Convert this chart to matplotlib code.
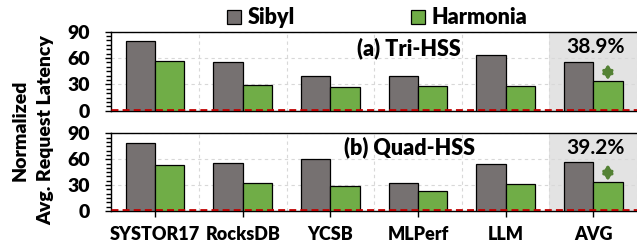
import numpy as np
import matplotlib.pyplot as plt
from matplotlib.patches import Patch

plt.rcParams['font.family'] = ['Lato', 'DejaVu Sans']

# data
categories = ["SYSTOR17", "RocksDB", "YCSB", "MLPerf", "LLM", "AVG"]
tri_sibyl = [79, 56, 39, 39, 64, 56]
tri_harmonia = [57, 29, 27, 28, 28, 34]
quad_sibyl = [79, 56, 60, 33, 54, 57]
quad_harmonia = [53, 33, 29, 23, 31, 34]
panel_titles = ["(a) Tri-HSS", "(b) Quad-HSS"]
reductions = ["38.9%", "39.2%"]

C_SIBYL = "#767171"
C_HARM = "#70ad47"
C_ARROW = "#548235"
BOLD = "heavy"

fig = plt.figure(figsize=(6.37, 2.42), dpi=100)
ax_top = fig.add_axes([0.1747, 0.5426, 0.8253, 0.3264])
ax_bot = fig.add_axes([0.1747, 0.128, 0.8253, 0.3212])

x = np.arange(len(categories))
w = 0.335

panels = [
    (ax_top, tri_sibyl, tri_harmonia, panel_titles[0], reductions[0], 71, 73),
    (ax_bot, quad_sibyl, quad_harmonia, panel_titles[1], reductions[1], 74, 73),
]

for ax, sib, harm, title, red, ty, ry in panels:
    ax.axvspan(4.5, 5.5, color="#e3e3e3", zorder=0, lw=0)
    ax.bar(x - w / 2, sib, w, color=C_SIBYL, edgecolor="black", lw=0.9, zorder=3)
    ax.bar(x + w / 2, harm, w, color=C_HARM, edgecolor="black", lw=0.9, zorder=3)
    ax.axhline(1.2, color="#c00000", ls=(0, (2.5, 1.5)), lw=2, zorder=4)

    ax.set_xlim(-0.5, 5.42)
    ax.set_ylim(0, 90)
    ax.set_yticks([0, 30, 60, 90])
    ax.set_yticks(np.arange(0, 91, 5), minor=True)
    ax.set_xticks(x)
    ax.set_xticks(np.arange(-0.5, 6, 1), minor=True)
    ax.grid(True, axis="y", which="major", ls=(0, (3, 3)), color="#d8d8d8", lw=0.8, zorder=1)
    ax.grid(True, axis="x", which="minor", ls=(0, (3, 3)), color="#d8d8d8", lw=0.8, zorder=1)
    ax.tick_params(axis="y", which="major", length=4.5, width=1, pad=11, labelsize=14)
    ax.tick_params(axis="y", which="minor", length=3.3, width=1)
    ax.tick_params(axis="x", which="minor", length=0)
    for lab in ax.get_yticklabels():
        lab.set_fontweight(BOLD)
    ax.spines["right"].set_visible(False)
    for s in ["left", "bottom", "top"]:
        ax.spines[s].set_linewidth(1)

    ax.text(2.9, ty, title, ha="center", va="center", fontsize=15.5, fontweight=BOLD, zorder=5)
    ax.text(5.36, ry, red, ha="right", va="center", fontsize=15, fontweight="bold", zorder=5)
    ax.annotate("", xy=(5 + w / 2, harm[-1] + 1), xytext=(5 + w / 2, sib[-1] - 3),
                arrowprops=dict(arrowstyle="<|-|>,head_length=0.4,head_width=0.25",
                                color=C_ARROW, lw=2.2, mutation_scale=12,
                                shrinkA=0, shrinkB=0), zorder=5)

ax_top.tick_params(axis="x", which="major", length=0, labelbottom=False)
ax_bot.tick_params(axis="x", which="major", length=4, width=1, pad=7)
ax_bot.set_xticklabels(categories, fontsize=13, fontweight=BOLD)

fig.text(0.052, 0.463, "Normalized\nAvg. Request Latency", rotation=90,
         ha="center", va="center", fontsize=14, fontweight=BOLD, linespacing=1.65)

handles = [Patch(facecolor=C_SIBYL, edgecolor="black", lw=0.9, label="Sibyl"),
           Patch(facecolor=C_HARM, edgecolor="black", lw=0.9, label="Harmonia")]
fig.legend(handles=handles, loc="center", bbox_to_anchor=(0.592, 0.926), ncol=2,
           frameon=False, prop=dict(size=15.5, weight=BOLD), handlelength=0.65,
           handleheight=0.65, handletextpad=0.3, columnspacing=5.4, borderpad=0)

fig.savefig("out.png", dpi=100)
